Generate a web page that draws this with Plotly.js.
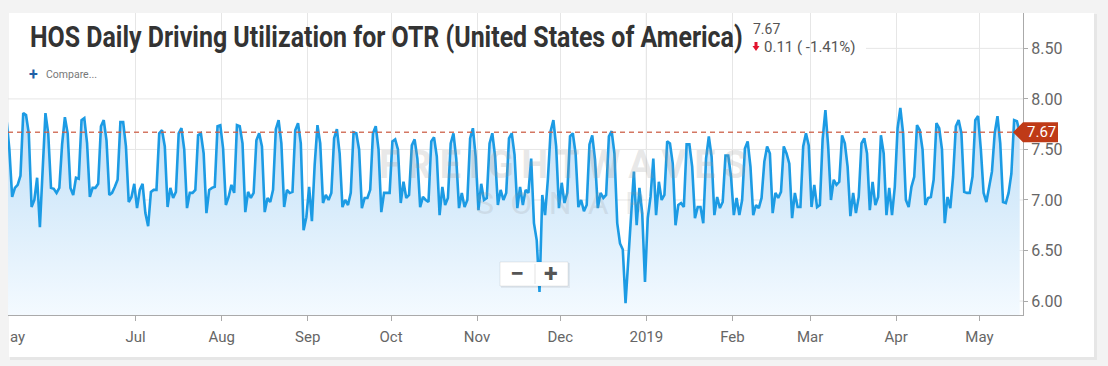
<!DOCTYPE html>
<html><head><meta charset="utf-8">
<script src="https://cdn.plot.ly/plotly-3.0.1.min.js"></script>
<style>html,body{margin:0;padding:0;background:#f3f3f3;overflow:hidden}#chart{width:1108px;height:366px}</style>
</head><body><div id="chart"></div>
<script>
// ---- data ----
const firstDay = '2018-05-15';
const utilization = [
7.82,7.79,7.50,7.03,7.12,7.15,7.24,
7.86,7.84,7.66,6.93,7.00,7.22,6.73,
7.30,7.86,7.66,7.12,7.11,7.07,7.12,
7.55,7.82,7.66,7.12,7.05,7.22,7.21,
7.79,7.81,7.56,7.03,7.12,7.12,7.16,
7.73,7.79,7.59,7.05,7.07,7.13,7.20,
7.77,7.77,7.53,6.98,7.03,7.16,6.92,
7.10,7.16,6.87,6.74,7.08,7.10,7.10,
7.66,7.69,7.53,6.93,7.12,7.02,7.08,
7.66,7.71,7.50,6.92,7.07,7.07,7.10,
7.64,7.66,7.46,6.87,7.10,7.12,7.13,
7.73,7.74,7.51,6.95,7.03,7.15,7.07,
7.74,7.73,7.56,6.88,7.08,7.02,7.07,
7.59,7.66,7.53,6.88,7.02,6.98,7.10,
7.70,7.79,7.56,6.93,7.10,7.07,7.08,
7.69,7.76,7.56,6.70,6.83,7.13,6.79,
7.35,7.74,7.56,6.97,7.05,7.00,7.07,
7.61,7.70,7.46,6.93,7.00,6.95,7.07,
7.67,7.66,7.50,6.92,7.02,7.02,7.10,
7.66,7.73,7.50,6.88,7.07,7.07,7.07,
7.58,7.60,7.50,6.97,7.18,7.02,7.05,
7.54,7.60,7.41,6.93,7.03,7.00,6.98,
7.58,7.62,7.43,6.85,7.13,6.95,7.02,
7.56,7.66,7.41,6.92,7.07,6.93,7.00,
7.61,7.71,7.43,6.90,7.16,7.00,7.02,
7.56,7.66,7.43,6.95,7.10,7.00,7.07,
7.61,7.66,7.45,6.92,7.13,6.95,7.10,
7.07,7.41,6.77,6.60,6.09,7.05,6.85,
7.20,7.68,7.79,7.53,6.92,7.17,6.97,
7.07,7.63,7.66,7.46,6.93,7.00,6.89,
6.95,7.55,7.64,7.40,6.92,7.07,7.02,
7.05,7.63,7.68,7.46,6.77,6.57,6.51,
5.98,6.45,6.88,7.28,6.75,7.12,6.87,
6.19,6.82,7.03,7.41,6.85,7.18,7.00,
7.05,7.58,7.56,7.36,6.75,6.95,6.97,
6.93,7.55,7.55,7.33,6.82,6.93,6.93,
6.77,7.41,7.63,7.43,6.85,7.03,6.92,
6.98,7.44,7.44,7.23,6.85,7.02,6.85,
7.00,7.51,7.58,7.33,6.85,6.95,6.92,
7.02,7.38,7.53,7.46,6.87,7.07,7.02,
7.08,7.53,7.46,7.36,6.82,7.07,6.93,
6.93,7.53,7.66,7.54,
6.93,7.15,6.93,6.95,
7.60,7.89,7.53,7.00,7.20,7.15,7.18,
7.64,7.56,7.33,6.84,7.07,6.87,7.03,
7.56,7.61,7.46,6.90,7.18,6.95,7.03,
7.64,7.46,6.85,7.12,6.85,7.13,
7.71,7.91,7.66,7.00,6.93,7.13,7.23,
7.74,7.69,7.50,6.95,7.02,7.03,7.20,
7.76,7.71,7.50,6.77,7.03,6.92,7.23,
7.73,7.79,7.66,7.08,7.07,7.07,7.23,
7.79,7.83,7.50,7.07,6.98,7.13,7.28,
7.66,7.83,7.56,6.98,6.97,7.07,7.26,
7.79,7.78,7.67
];
const monthTickDates = ['2018-07-01','2018-08-01','2018-09-01','2018-10-01','2018-11-01','2018-12-01','2019-01-01','2019-02-01','2019-03-01','2019-04-01','2019-05-01'];
const monthTickLabels = ['Jul','Aug','Sep','Oct','Nov','Dec','2019','Feb','Mar','Apr','May'];
const yTickValues = [6.0,6.5,7.0,7.5,8.0,8.5];
const yTickLabels = ['6.00','6.50','7.00','7.50','8.00','8.50'];
const titleText = 'HOS Daily Driving Utilization for OTR (United States of America)';

// ---- build ----
const DAY = 86400000;
const t0 = Date.parse(firstDay + 'T00:00:00Z') - DAY / 2;
const dates = utilization.map((_, i) => new Date(t0 + i * DAY).toISOString().slice(0, 16).replace('T', ' '));
const last = utilization[utilization.length - 1];
const prev = utilization[utilization.length - 2];
const chg = last - prev;
const pct = chg / prev * 100;

const W = 1108, H = 366, L = 8, R = 85, T = 13, B = 51;
const pw = W - L - R, ph = H - T - B;
const PX = x => (x - L) / pw;
const PY = y => (H - B - y) / ph;
const FONT = 'Roboto, "Open Sans", sans-serif';

const shapes = [];
shapes.push({type:'rect', xref:'paper', yref:'paper', x0:PX(10), x1:PX(1097), y0:PY(360), y1:PY(14), fillcolor:'rgba(0,0,0,0.05)', line:{width:0}, layer:'below'});
shapes.push({type:'rect', xref:'paper', yref:'paper', x0:PX(9), x1:PX(1094), y0:PY(357), y1:PY(13), fillcolor:'#ffffff', line:{width:0}, layer:'below'});
yTickValues.forEach(v => {
  shapes.push({type:'line', xref:'paper', yref:'y', x0: v >= 8.5 ? PX(866) : 0, x1:1, y0:v, y1:v, line:{color:'#e6e6e6', width:1}, layer:'below'});
});
shapes.push({type:'line', xref:'x', yref:'paper', x0:'2019-01-01', x1:'2019-01-01', y0:0, y1:1, line:{color:'#cfcfcf', width:1}, layer:'below'});
shapes.push({type:'line', xref:'paper', yref:'y', x0:0, x1:1, y0:last, y1:last, line:{color:'rgba(205,95,70,0.85)', width:1.5, dash:'5px,4px'}, layer:'above'});
const fy = 200 - (last - 7) * 101.1;
shapes.push({type:'path', xref:'paper', yref:'paper', layer:'above',
  path:`M ${PX(1013)} ${PY(fy)} L ${PX(1023)} ${PY(fy-10)} L ${PX(1058)} ${PY(fy-10)} L ${PX(1058)} ${PY(fy+10)} L ${PX(1023)} ${PY(fy+10)} Z`,
  fillcolor:'#bf3a17', line:{width:0}});
shapes.push({type:'path', xref:'paper', yref:'paper', layer:'above',
  path:`M ${PX(754.5)} ${PY(42)} L ${PX(757.5)} ${PY(42)} L ${PX(757.5)} ${PY(46)} L ${PX(759.5)} ${PY(46)} L ${PX(756)} ${PY(51)} L ${PX(752.5)} ${PY(46)} L ${PX(754.5)} ${PY(46)} Z`,
  fillcolor:'#e2142d', line:{width:0}});
shapes.push({type:'rect', xref:'paper', yref:'paper', x0:PX(501), x1:PX(570), y0:PY(288), y1:PY(263), fillcolor:'rgba(0,0,0,0.06)', line:{width:0}, layer:'above'});
shapes.push({type:'rect', xref:'paper', yref:'paper', x0:PX(500), x1:PX(568), y0:PY(286), y1:PY(262), fillcolor:'#ffffff', line:{color:'rgba(0,0,0,0.08)', width:1}, layer:'above'});
shapes.push({type:'line', xref:'paper', yref:'paper', x0:PX(535), x1:PX(535), y0:PY(284), y1:PY(264), line:{color:'#e3e3e3', width:1}, layer:'above'});

const annotations = [
  {xref:'paper', yref:'paper', x:PX(17), y:PY(337), text:'ay', showarrow:false, font:{family:FONT, size:15, color:'#666'}, xanchor:'center', yanchor:'middle'},
  {xref:'paper', yref:'paper', x:PX(751), y:PY(29), text:last.toFixed(2), showarrow:false, font:{family:FONT, size:14, color:'#555'}, xanchor:'left', yanchor:'middle'},
  {xref:'paper', yref:'paper', x:PX(762), y:PY(47.5), text:Math.abs(chg).toFixed(2) + ' ( ' + pct.toFixed(2) + '%)', showarrow:false, font:{family:FONT, size:15, color:'#555'}, xanchor:'left', yanchor:'middle'},
  {xref:'paper', yref:'paper', x:PX(33.5), y:PY(74), text:'<b>+</b>', showarrow:false, font:{family:FONT, size:16, color:'#1f5fa6'}, xanchor:'center', yanchor:'middle'},
  {xref:'paper', yref:'paper', x:PX(44), y:PY(74), text:'Compare...', showarrow:false, font:{family:FONT, size:10.5, color:'#777'}, xanchor:'left', yanchor:'middle'},
  {xref:'paper', yref:'paper', x:PX(563), y:PY(165), text:'<b>F\u2009R\u2009E\u2009I\u2009G\u2009H\u2009T\u2009W\u2009A\u2009V\u2009E\u2009S</b>', showarrow:false, font:{family:FONT, size:38, color:'rgba(150,150,150,0.22)'}, xanchor:'center', yanchor:'middle'},
  {xref:'paper', yref:'paper', x:PX(560), y:PY(203), text:'S\u2002O\u2002N\u2002A\u2002R', showarrow:false, font:{family:FONT, size:32, color:'rgba(150,150,150,0.2)'}, xanchor:'center', yanchor:'middle'},
  {xref:'paper', yref:'paper', x:PX(1041), y:PY(fy), text:last.toFixed(2), showarrow:false, font:{family:FONT, size:15, color:'#ffffff'}, xanchor:'center', yanchor:'middle'},
  {xref:'paper', yref:'paper', x:PX(516.5), y:PY(273.5), text:'<b>\u2212</b>', showarrow:false, font:{family:FONT, size:25, color:'#555'}, xanchor:'center', yanchor:'middle'},
  {xref:'paper', yref:'paper', x:PX(551), y:PY(273.5), text:'<b>+</b>', showarrow:false, font:{family:FONT, size:25, color:'#555'}, xanchor:'center', yanchor:'middle'}
];

const trace = {
  type:'scatter', mode:'lines', x:dates, y:utilization,
  line:{color:'#1c9be4', width:2.6},
  fill:'tozeroy',
  fillgradient:{type:'vertical', start:5.86, stop:7.9, colorscale:[[0,'#f4faff'],[1,'#bfdff7']]},
  hoverinfo:'skip', showlegend:false
};

const layout = {
  width:W, height:H,
  margin:{l:L, r:R, t:T, b:B, pad:0},
  paper_bgcolor:'#f3f3f3', plot_bgcolor:'rgba(0,0,0,0)',
  title:{text:'<b>' + titleText + '</b>', font:{family:'Roboto, sans-serif', size:29, color:'#333'},
         x:30/W, xanchor:'left', xref:'container', y:1 - 37/H, yanchor:'middle', yref:'container'},
  xaxis:{type:'date', range:['2018-05-16 00:13','2019-05-16 16:35'], tickmode:'array', tickvals:monthTickDates, ticktext:monthTickLabels,
         showgrid:true, gridcolor:'#e6e6e6', gridwidth:1, showline:true, linecolor:'#aaa', linewidth:1,
         ticks:'outside', ticklen:5, tickcolor:'#aaa', ticklabelstandoff:3,
         tickfont:{family:FONT, size:15, color:'#666'}, zeroline:false, fixedrange:true},
  yaxis:{side:'right', range:[5.862, 8.85], tickmode:'array', tickvals:yTickValues, ticktext:yTickLabels,
         showgrid:false, showline:true, linecolor:'#aaa', linewidth:1, ticks:'outside', ticklen:4, tickcolor:'#aaa',
         tickfont:{family:FONT, size:16, color:'#666'}, zeroline:false, fixedrange:true},
  shapes:shapes, annotations:annotations, showlegend:false
};

Plotly.newPlot('chart', [trace], layout, {displayModeBar:false, staticPlot:true}).then(() => {
  // condense the bold title horizontally to the reference's narrow width
  const t = document.querySelector('.gtitle');
  if (t) {
    const bb = t.getBBox();
    const target = 713;
    if (bb.width > 0) {
      const sx = target / bb.width;
      t.setAttribute('transform', `translate(${bb.x},0) scale(${sx},1) translate(${-bb.x},0)`);
    }
  }
});
</script></body></html>
